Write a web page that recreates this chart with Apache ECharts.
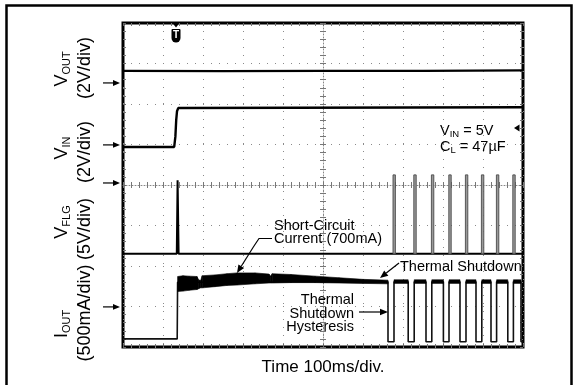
<!DOCTYPE html>
<html>
<head>
<meta charset="utf-8">
<script src="https://cdn.jsdelivr.net/npm/echarts@6/dist/echarts.min.js"></script>
<style>
html, body { margin: 0; padding: 0; background: #fff; }
#chartBox { width: 577px; height: 385px; }
</style>
</head>
<body>
<div id="chartBox"></div>
<script>
// time in ms (100 ms/div), level in screen divisions counted from the bottom (8 div)
const voutTrace = [[0, 6.82], [250, 6.81], [500, 6.82], [750, 6.82], [1000, 6.83]];
const vinTrace = [[0, 4.94], [128, 4.94], [131, 5.2], [133, 5.6], [135, 5.82], [138, 5.9], [143, 5.92], [1000, 5.92]];
const vflgTrace = [[0, 2.3], [134.5, 2.3], [136.5, 4.12], [138, 4.12], [139, 2.3], [1000, 2.3]];
const vflgPulseTimes = [678, 730, 774, 817.5, 859, 899, 936.5, 977.5];
const vflgLow = 2.3;
const vflgHigh = 4.25;
const ioutStart = [[0, 0.2], [135.5, 0.2], [136.5, 1.6]];
const ioutFall = [662.5, 713, 757.5, 801, 842.5, 882.5, 920, 962, 995];
const ioutRise = [677.5, 728, 772, 815, 857.5, 897, 934, 976];
const ioutHigh = 1.61;
const ioutLow = 0.13;
// noisy short-circuit current: [time, lower edge, upper edge]
const ioutBand = [
  [136.5, 1.37, 1.74], [150, 1.38, 1.76], [165, 1.40, 1.75], [185, 1.42, 1.74],
  [189, 1.44, 1.66], [194, 1.46, 1.64], [198, 1.46, 1.76], [230, 1.49, 1.78],
  [260, 1.52, 1.81], [285, 1.53, 1.83], [330, 1.56, 1.83], [365, 1.58, 1.80],
  [369, 1.58, 1.75], [373, 1.58, 1.81], [420, 1.59, 1.79], [480, 1.59, 1.75],
  [540, 1.58, 1.71], [600, 1.57, 1.67], [662.5, 1.56, 1.65]
];
const cycleBand = [1.57, 1.66];
const groundLevels = [6.52, 4.99, 4.05, 0.99];
const triggerTime = 132.5;
const triggerLevel = 5.41;

const FONT = "'Liberation Sans', Arial, Helvetica, sans-serif";

// build the traces
const ioutLine = ioutStart.slice();
ioutFall.forEach(function (f, i) {
  ioutLine.push([f, ioutHigh], [f, ioutLow]);
  if (i < ioutRise.length) {
    ioutLine.push([ioutRise[i], ioutLow], [ioutRise[i], ioutHigh]);
  } else {
    ioutLine.push([1000, ioutLow]);
  }
});

const bandSegments = [];
for (let i = 0; i < ioutBand.length - 1; i++) {
  bandSegments.push(ioutBand[i].concat(ioutBand[i + 1]));
}
ioutRise.forEach(function (r, i) {
  const f = ioutFall[i + 1];
  bandSegments.push([r, cycleBand[0], cycleBand[1], f, cycleBand[0], cycleBand[1]]);
});

const pulseSegments = vflgPulseTimes.map(function (t) {
  return [t - 3, vflgLow, vflgHigh, t + 3, vflgLow, vflgHigh];
});

const chart = echarts.init(document.getElementById('chartBox'));

function frameAxis(pos, min, max, interval, split) {
  return {
    type: 'value', position: pos, min: min, max: max, interval: interval,
    axisLine: { show: false, onZero: false },
    axisTick: { show: true, inside: true, length: 3, lineStyle: { color: '#666' } },
    minorTick: { show: true, splitNumber: 5, length: 3, lineStyle: { color: '#777' } },
    axisLabel: { show: false },
    splitLine: { show: split, lineStyle: { color: '#8a8a8a', width: 1, type: [1, 7] } }
  };
}
function centerAxis(pos, min, max, zeroIdx, showLine) {
  return {
    type: 'value', position: pos, min: min, max: max, interval: 0.2,
    axisLine: { show: showLine, onZero: true, onZeroAxisIndex: zeroIdx, lineStyle: { color: '#888', width: 1, type: [1, 2] } },
    axisTick: { show: true, length: 3, lineStyle: { color: '#777' } },
    axisLabel: { show: false },
    splitLine: { show: false }
  };
}

function lineSeries(data, color, width) {
  return {
    type: 'line', data: data, showSymbol: false, symbol: 'none',
    lineStyle: { color: color, width: width }, z: 4, silent: true
  };
}
function bandSeries(data, fill, stroke, strokeWidth) {
  return {
    type: 'custom', data: data, silent: true, z: 5,
    encode: { x: [0, 3], y: [1, 2, 4, 5] },
    renderItem: function (params, api) {
      const a = api.coord([api.value(0), api.value(2)]);
      const b = api.coord([api.value(3), api.value(5)]);
      const c = api.coord([api.value(3), api.value(4)]);
      const d = api.coord([api.value(0), api.value(1)]);
      return {
        type: 'polygon', shape: { points: [a, b, c, d] },
        style: { fill: fill, stroke: stroke, lineWidth: strokeWidth }
      };
    }
  };
}

const option = {
  animation: false,
  backgroundColor: '#fff',
  grid: {
    left: 123, top: 23, width: 400, height: 324,
    show: true, borderColor: '#000', borderWidth: 3, backgroundColor: 'transparent',
    outerBoundsMode: 'none'
  },
  xAxis: [
    frameAxis('bottom', 0, 1000, 100, true),
    frameAxis('top', 0, 1000, 100, false),
    centerAxis('bottom', -5, 5, 2, true),
    centerAxis('top', -5, 5, 2, false)
  ],
  yAxis: [
    frameAxis('left', 0, 8, 1, true),
    frameAxis('right', 0, 8, 1, false),
    centerAxis('left', -4, 4, 2, true),
    centerAxis('right', -4, 4, 2, false)
  ],
  series: [
    lineSeries(voutTrace, '#000', 2.2),
    lineSeries(vinTrace, '#000', 2.4),
    lineSeries(vflgTrace, '#000', 2),
    bandSeries(pulseSegments, '#9a9a9a', '#4a4a4a', 0.9),
    lineSeries(ioutLine, '#111', 1.6),
    bandSeries(bandSegments, '#000', '#000', 0.6)
  ]
};
chart.setOption(option);

// annotations
function arrow(x0, y0, x1, y1, head) {
  head = head || 7;
  const ang = Math.atan2(y1 - y0, x1 - x0);
  const bx = x1 - head * Math.cos(ang), by = y1 - head * Math.sin(ang);
  const px = -Math.sin(ang) * head * 0.42, py = Math.cos(ang) * head * 0.42;
  return [
    { type: 'line', z: 100, shape: { x1: x0, y1: y0, x2: bx, y2: by }, style: { stroke: '#000', lineWidth: 1.2 } },
    { type: 'polygon', z: 100, shape: { points: [[x1, y1], [bx + px, by + py], [bx - px, by - py]] }, style: { fill: '#000' } }
  ];
}
function txt(x, y, text, size, align, rich, rot) {
  return {
    type: 'text', x: x, y: y, z: 100, rotation: rot || 0,
    style: {
      text: text, fill: '#000', fontSize: size, fontFamily: FONT,
      align: align, textAlign: align, verticalAlign: 'middle', textVerticalAlign: 'middle',
      rich: rich
    }
  };
}
function subRich(size, subSize) {
  return {
    m: { fontSize: size, fontFamily: FONT, fill: '#000', color: '#000', lineHeight: size + 2 },
    s: { fontSize: subSize, fontFamily: FONT, fill: '#000', color: '#000', verticalAlign: 'bottom', lineHeight: 4 }
  };
}

const g = [];
groundLevels.forEach(function (lv) {
  const y = chart.convertToPixel({ yAxisIndex: 0 }, lv);
  g.push.apply(g, arrow(103, y, 120, y, 7));
});
const tx = chart.convertToPixel({ xAxisIndex: 0 }, triggerTime);
g.push({ type: 'polygon', z: 100, shape: { points: [[tx - 3.5, 23], [tx + 3.5, 23], [tx, 27.5]] }, style: { fill: '#000' } });
g.push({ type: 'rect', z: 100, shape: { x: tx - 4.5, y: 29, width: 9, height: 13.5, r: [1, 1, 4.5, 4.5] }, style: { fill: '#000' } });
g.push({ type: 'text', x: tx, y: 35.5, z: 101, style: { text: 'T', fill: '#fff', fontSize: 10, fontWeight: 'bold', fontFamily: FONT, align: 'center', textAlign: 'center', verticalAlign: 'middle', textVerticalAlign: 'middle' } });
const ty = chart.convertToPixel({ yAxisIndex: 0 }, triggerLevel);
g.push({ type: 'polygon', z: 100, shape: { points: [[514, ty], [519.5, ty - 3.5], [519.5, ty + 3.5]] }, style: { fill: '#000' } });

// channel labels (rotated)
const R = Math.PI / 2;
g.push(txt(62, 69, '{m|V}{s|OUT}', 18, 'center', subRich(18, 11), R));
g.push(txt(85, 68, '(2V/div)', 18, 'center', null, R));
g.push(txt(62, 148, '{m|V}{s|IN}', 18, 'center', subRich(18, 11), R));
g.push(txt(85, 152, '(2V/div)', 18, 'center', null, R));
g.push(txt(62, 222, '{m|V}{s|FLG}', 18, 'center', subRich(18, 11), R));
g.push(txt(85, 229, '(5V/div)', 18, 'center', null, R));
g.push(txt(62, 324, '{m|I}{s|OUT}', 18, 'center', subRich(18, 11), R));
g.push(txt(85, 313, '(500mA/div)', 18, 'center', null, R));

// conditions
g.push(txt(440, 131, '{m|V}{s|IN}{m| = 5V}', 14.5, 'left', subRich(14.5, 9.5)));
g.push(txt(440, 147, '{m|C}{s|L}{m| = 47µF}', 14.5, 'left', subRich(14.5, 9.5)));

// callouts
g.push(txt(274, 226, 'Short-Circuit', 14.5, 'left'));
g.push(txt(274, 239, 'Current (700mA)', 14.5, 'left'));
g.push({ type: 'polyline', z: 100, shape: { points: [[272, 238.5], [259, 238.5], [254, 246]] }, style: { stroke: '#000', lineWidth: 1.2, fill: null } });
g.push.apply(g, arrow(254, 246, 237, 273, 8));
g.push(txt(400, 267, 'Thermal Shutdown', 14.5, 'left'));
g.push.apply(g, arrow(399, 263, 380, 278, 8));
g.push(txt(354, 300, 'Thermal', 14.5, 'right'));
g.push(txt(354, 313.5, 'Shutdown', 14.5, 'right'));
g.push(txt(354, 327, 'Hysteresis', 14.5, 'right'));
g.push.apply(g, arrow(359, 312, 388, 312, 8));

g.push(txt(323, 367, 'Time 100ms/div.', 17, 'center'));

// outer frame
g.push({ type: 'rect', z: 100, shape: { x: 6.5, y: 5.5, width: 565, height: 395 }, style: { fill: null, stroke: '#000', lineWidth: 2.5 } });

chart.setOption({ graphic: { elements: g } });
</script>
</body>
</html>
